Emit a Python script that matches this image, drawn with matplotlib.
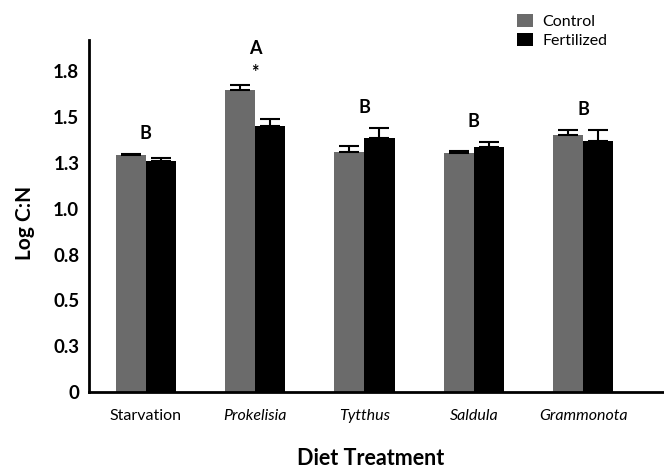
import numpy as np
import matplotlib.pyplot as plt

plt.rcParams['font.family'] = ['Lato', 'DejaVu Sans']

#%% data
diets = ['Starvation', 'Prokelisia', 'Tytthus', 'Saldula', 'Grammonota']
italic = [False, True, True, True, True]
control = [1.295, 1.645, 1.311, 1.302, 1.403]
control_se = [0.005, 0.030, 0.031, 0.015, 0.026]
fertilized = [1.262, 1.449, 1.385, 1.335, 1.370]
fertilized_se = [0.016, 0.042, 0.055, 0.029, 0.060]
letters = ['B', 'A', 'B', 'B', 'B']
stars = ['', '*', '', '', '']
yticks = [0, 0.25, 0.5, 0.75, 1.0, 1.25, 1.5, 1.75]
ytick_labels = ['0', '0.3', '0.5', '0.8', '1.0', '1.3', '1.5', '1.8']

#%%
x = np.arange(len(diets))
w = 0.275

fig = plt.figure(figsize=(6.64, 4.68), dpi=100)
ax = fig.add_axes([0.134, 0.1624, 0.866, 0.752])

ax.bar(x - w/2, control, w, color='#6b6b6b', label='Control',
       yerr=[np.zeros(len(x)), control_se], capsize=7,
       error_kw=dict(elinewidth=1.5, capthick=1.5, ecolor='black'))
ax.bar(x + w/2, fertilized, w, color='black', label='Fertilized',
       yerr=[np.zeros(len(x)), fertilized_se], capsize=7,
       error_kw=dict(elinewidth=1.5, capthick=1.5, ecolor='black'))

# significance letters
for i in x:
    top = max(control[i] + control_se[i], fertilized[i] + fertilized_se[i])
    if stars[i]:
        ax.text(i, top + 0.07, stars[i], ha='center', va='center',
                fontsize=13, fontweight='bold')
        ax.text(i, top + 0.2, letters[i], ha='center', va='center',
                fontsize=13, fontweight='bold')
    else:
        ax.text(i, top + 0.11, letters[i], ha='center', va='center',
                fontsize=13, fontweight='bold')

ax.set_xlim(-0.52, 4.74)
ax.set_ylim(0, 1.92)
ax.set_yticks(yticks)
ax.set_yticklabels(ytick_labels, fontsize=13.5, fontweight='bold')
ax.set_xticks(x)
ax.set_xticklabels(diets, fontsize=11.5)
for lab, it in zip(ax.get_xticklabels(), italic):
    if it:
        lab.set_style('italic')
ax.tick_params(axis='x', length=0, pad=12)
ax.tick_params(axis='y', length=0, pad=7)

for s in ['top', 'right']:
    ax.spines[s].set_visible(False)
for s in ['left', 'bottom']:
    ax.spines[s].set_linewidth(2)

ax.set_ylabel('Log C:N', fontsize=15, fontweight='bold')
ax.yaxis.set_label_coords(-0.094, 0.48)
ax.set_xlabel('Diet Treatment', fontsize=15.5, fontweight='bold')
ax.xaxis.set_label_coords(0.4896, -0.158)

fig.legend(loc='upper left', bbox_to_anchor=(0.757, 1.0), frameon=False,
           fontsize=11.5, handlelength=1.0, handleheight=0.85,
           handletextpad=0.6, labelspacing=0.25)

plt.savefig('out.png', dpi=100)
